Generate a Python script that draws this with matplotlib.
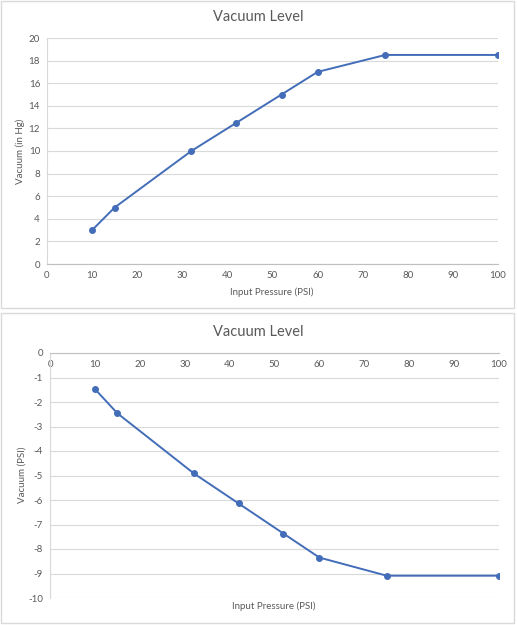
import matplotlib.pyplot as plt
from matplotlib.patches import Rectangle

plt.rcParams['font.family'] = ['Lato', 'DejaVu Sans']
plt.rcParams['axes.unicode_minus'] = False

pressure = [10, 15, 32, 42, 52, 60, 75, 100]
vac_inhg = [3, 5, 10, 12.5, 15, 17, 18.5, 18.5]
vac_psi = [-1.47, -2.46, -4.91, -6.14, -7.37, -8.35, -9.09, -9.09]

W, H = 517, 625
blue = '#436DB8'
grid = '#D9D9D9'
txt = '#595959'

fig = plt.figure(figsize=(W / 100, H / 100), dpi=100)


def px(x0, y0, x1, y1):
    # pixel box (top-left origin) -> figure fraction rect
    return [x0 / W, 1 - y1 / H, (x1 - x0) / W, (y1 - y0) / H]


# chart borders
for y0, y1 in [(1, 308), (313, 623)]:
    fig.patches.append(Rectangle((1 / W, 1 - y1 / H), 513 / W, (y1 - y0) / H,
                                 transform=fig.transFigure, fill=False,
                                 edgecolor=grid, linewidth=1))


def style(ax):
    for s in ax.spines.values():
        s.set_visible(False)
    ax.spines['left'].set_visible(True)
    ax.spines['left'].set_color(grid)
    ax.spines['bottom'].set_visible(True)
    ax.spines['bottom'].set_color('#BFBFBF')
    ax.tick_params(length=0, labelsize=7, labelcolor=txt, pad=5)
    ax.grid(axis='y', color=grid, linewidth=0.8)
    ax.set_axisbelow(True)
    ax.set_xlim(0, 100)
    ax.set_xticks(range(0, 101, 10))


# top chart
ax1 = fig.add_axes(px(47, 38, 498, 264))
style(ax1)
ax1.plot(pressure, vac_inhg, color=blue, linewidth=1.4, marker='o', markersize=4)
ax1.set_ylim(0, 20)
ax1.set_yticks(range(0, 21, 2))
fig.text(258 / W, 1 - 17 / H, 'Vacuum Level', ha='center', va='center', fontsize=10.5, color=txt)
fig.text(20 / W, 1 - 151 / H, 'Vacuum (in Hg)', ha='center', va='center', rotation=90, fontsize=7, color=txt)
fig.text(272 / W, 1 - 292 / H, 'Input Pressure (PSI)', ha='center', va='center', fontsize=7, color=txt)

# bottom chart, x axis sits on y = 0 at the top
ax2 = fig.add_axes(px(50, 353, 499, 598))
style(ax2)
ax2.spines['bottom'].set_position(('data', 0))
ax2.plot(pressure, vac_psi, color=blue, linewidth=1.4, marker='o', markersize=4)
ax2.set_ylim(-10, 0)
ax2.set_yticks(range(-10, 1, 1))
fig.text(258 / W, 1 - 332 / H, 'Vacuum Level', ha='center', va='center', fontsize=10.5, color=txt)
fig.text(22 / W, 1 - 475 / H, 'Vacuum (PSI)', ha='center', va='center', rotation=90, fontsize=7, color=txt)
fig.text(274 / W, 1 - 606 / H, 'Input Pressure (PSI)', ha='center', va='center', fontsize=7, color=txt)

fig.savefig('out.png', dpi=100)
